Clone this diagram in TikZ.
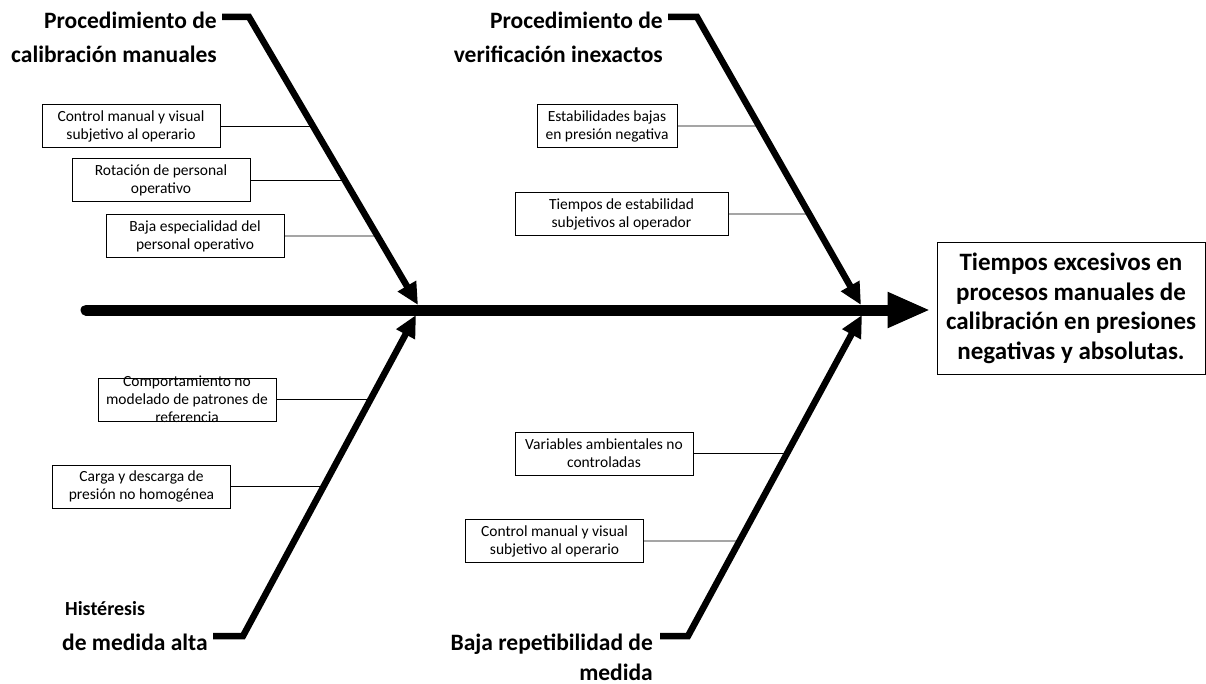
\documentclass[tikz,border=0pt]{standalone}
\usepackage{fontspec}
\setmainfont{Carlito}
\usetikzlibrary{arrows.meta}

\begin{document}
\begin{tikzpicture}[x = 1pt, y = -1pt, line join = miter,
	boxtxt/.style = {align = center, font = \fontsize{15.5}{18}\selectfont},
	cause/.style = {boxtxt, draw, line width = 1pt, minimum width = 178pt, minimum height = 43pt, inner sep = 1pt},
	bone/.style = {line width = 6.5pt, -{Triangle[length = 22pt, width = 20pt]}},
	spine/.style = {line width = 11pt, line cap = round, -{Triangle[length = 43pt, width = 33pt]}},
	bonelbl/.style = {inner sep = 0pt, font = \fontsize{23.5}{34}\selectfont\bfseries}]
	\useasboundingbox (0,0) rectangle (1206,684);
	\path
	(86,310) coordinate (S0)
	(222,17) coordinate (A0) (249,17) coordinate (A1) (418,305) coordinate (A2)
	(668,17) coordinate (B0) (697,17) coordinate (B1) (861,305) coordinate (B2)
	(213,636) coordinate (C0) (243,636) coordinate (C1) (416,315) coordinate (C2)
	(660,636) coordinate (D0) (688,636) coordinate (D1) (862,315) coordinate (D2)
	;
	% effect
	\node[draw, line width = 1pt, minimum width = 268pt, minimum height = 131pt, align = center,
	font = \fontsize{25}{29.5}\selectfont\bfseries] (E) at (1071,308.5)
	{Tiempos excesivos en\\procesos manuales de\\calibración en presiones\\negativas y absolutas.};
	% causes
	\node[cause] (c1) at (131,126.5) {Control manual y visual\\subjetivo al operario};
	\node[cause] (c2) at (161,180.5) {Rotación de personal\\operativo};
	\node[cause] (c3) at (195,236) {Baja especialidad del\\personal operativo};
	\node[cause, minimum width = 140pt] (c4) at (607,126) {Estabilidades bajas\\en presión negativa};
	\node[cause, minimum width = 213pt] (c5) at (621.5,214) {Tiempos de estabilidad\\subjetivos al operador};
	\node[cause, label = {[boxtxt]center:{Comportamiento no\\modelado de patrones de\\referencia}}] (c6) at (187,399.5) {};
	\node[cause] (c7) at (141.5,486.5) {Carga y descarga de\\presión no homogénea};
	\node[cause] (c8) at (604,453.5) {Variables ambientales no\\controladas};
	\node[cause] (c9) at (554.5,541) {Control manual y visual\\subjetivo al operario};
	% main labels
	\node[bonelbl, anchor = base east, align = right] (lA) at (217,63) {Procedimiento de\\calibración manuales};
	\node[bonelbl, anchor = base east, align = right] (lB) at (663,63) {Procedimiento de\\verificación inexactos};
	\node[bonelbl, anchor = base west, font = \fontsize{20}{20}\selectfont\bfseries] (lC) at (65,615) {Histéresis};
	\node[bonelbl, anchor = base west] (lC2) at (62,650) {de medida alta};
	\node[bonelbl, anchor = base east, align = right, font = \fontsize{23.5}{30}\selectfont\bfseries] (lD) at (653,680) {Baja repetibilidad de\\medida};
	% spine and bones
	\draw[spine] (S0) -- ([xshift = -6pt]S0 -| E.west);
	\foreach \b in {A,B,C,D}
	\draw[bone] (\b0) -- (\b1) -- (\b2);
	\foreach \c/\b in {c1/A,c2/A,c3/A,c4/B,c5/B,c6/C,c7/C,c8/D,c9/D}
	\draw[line width = .8pt] (\c.east) -- (intersection of \c.west--\c.east and \b1--\b2);
\end{tikzpicture}
\end{document}
